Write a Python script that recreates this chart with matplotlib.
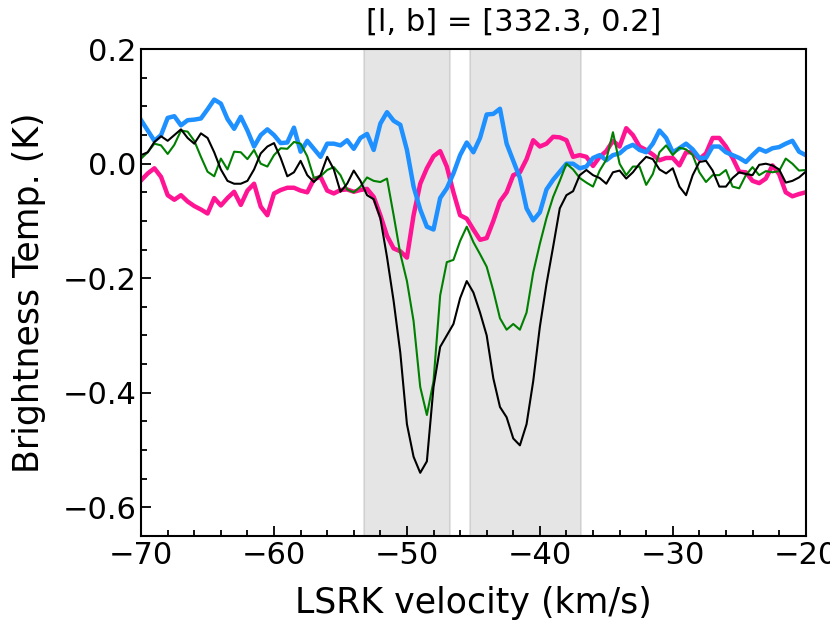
import numpy as np
import matplotlib
matplotlib.use("Agg")
import matplotlib.pyplot as plt
from matplotlib.ticker import MultipleLocator

# LSRK velocity channels (km/s)
velocity = [-70.0, -69.5, -69.0, -68.5, -68.0, -67.5, -67.0, -66.5, -66.0, -65.5,
            -65.0, -64.5, -64.0, -63.5, -63.0, -62.5, -62.0, -61.5, -61.0, -60.5,
            -60.0, -59.5, -59.0, -58.5, -58.0, -57.5, -57.0, -56.5, -56.0, -55.5,
            -55.0, -54.5, -54.0, -53.5, -53.0, -52.5, -52.0, -51.5, -51.0, -50.5,
            -50.0, -49.5, -49.0, -48.5, -48.0, -47.5, -47.0, -46.5, -46.0, -45.5,
            -45.0, -44.5, -44.0, -43.5, -43.0, -42.5, -42.0, -41.5, -41.0, -40.5,
            -40.0, -39.5, -39.0, -38.5, -38.0, -37.5, -37.0, -36.5, -36.0, -35.5,
            -35.0, -34.5, -34.0, -33.5, -33.0, -32.5, -32.0, -31.5, -31.0, -30.5,
            -30.0, -29.5, -29.0, -28.5, -28.0, -27.5, -27.0, -26.5, -26.0, -25.5,
            -25.0, -24.5, -24.0, -23.5, -23.0, -22.5, -22.0, -21.5, -21.0, -20.5,
            -20.0]

black_T = [0.015, 0.020, 0.038, 0.048, 0.040, 0.050, 0.060, 0.045, 0.035, 0.053,
           0.045, 0.020, -0.010, -0.030, -0.035, -0.035, -0.030, -0.010,
           0.018, 0.030, 0.036, 0.010, -0.022, -0.015, 0.005, -0.020, -0.032, -0.020,
           0.012, -0.010, -0.049, -0.035, -0.012, -0.030, -0.055,
           -0.062, -0.095, -0.163, -0.240, -0.330, -0.455, -0.512, -0.540, -0.520, -0.390,
           -0.320, -0.300, -0.280, -0.235, -0.205, -0.225, -0.260, -0.300, -0.375, -0.425,
           -0.443, -0.480, -0.492, -0.455, -0.380, -0.285, -0.210, -0.145, -0.078, -0.055,
           -0.048, -0.020, -0.011, -0.020, -0.025,
           -0.035, -0.015, -0.012, -0.026, -0.015, 0.000, 0.012, 0.008, -0.010, -0.017,
           -0.008, -0.040, -0.055, -0.020, 0.003, 0.005, -0.012, -0.040, -0.040, -0.025,
           -0.015, -0.018, -0.020, -0.002, 0.000, -0.003, -0.010, -0.033, -0.030, -0.024,
           -0.014]

green_T = [0.009, 0.020, 0.035, 0.032, 0.017, 0.033, 0.058, 0.056, 0.040, 0.012,
           -0.014, -0.022, 0.009, -0.010, 0.021, 0.020, 0.008, 0.024,
           0.000, -0.005, 0.015, 0.027, 0.026, 0.038, 0.035, 0.013, -0.025, -0.022,
           -0.011, -0.006, -0.020, -0.045, -0.050, -0.040, -0.024,
           -0.030, -0.032, -0.026, -0.090, -0.157, -0.205, -0.275, -0.390, -0.439, -0.380,
           -0.230, -0.172, -0.168, -0.135, -0.110, -0.137, -0.158, -0.180, -0.222, -0.270,
           -0.290, -0.280, -0.290, -0.260, -0.190, -0.140, -0.095, -0.058, -0.030, 0.000,
           -0.010, -0.025, -0.033, -0.040, -0.012,
           0.007, 0.055, 0.000, -0.020, -0.005, -0.005, -0.037, -0.018, 0.020, 0.032,
           0.015, 0.028, 0.025, 0.015, -0.015, -0.032, -0.020, -0.020, -0.011, -0.040,
           -0.043, -0.020, -0.006, -0.020, -0.013, -0.015, -0.013, 0.009, 0.000, -0.012,
           -0.011]

pink_T = [-0.029, -0.017, -0.008, -0.023, -0.055, -0.063, -0.055, -0.066, -0.074, -0.080,
          -0.087, -0.060, -0.073, -0.060, -0.049, -0.072, -0.047, -0.035,
          -0.075, -0.090, -0.052, -0.046, -0.042, -0.042, -0.047, -0.050, -0.027, -0.023,
          -0.047, -0.052, -0.046, -0.045, -0.049, -0.046, -0.044,
          -0.058, -0.090, -0.126, -0.148, -0.153, -0.164, -0.090, -0.035, -0.008, 0.013,
          0.022, -0.005, -0.050, -0.090, -0.096, -0.115, -0.133, -0.130, -0.100, -0.066,
          -0.050, -0.020, -0.015, 0.008, 0.041, 0.030, 0.035, 0.047, 0.046, 0.041,
          0.012, 0.015, 0.012, -0.004, 0.012,
          0.022, 0.040, 0.030, 0.062, 0.050, 0.030, 0.024, 0.016, 0.006, 0.010,
          0.010, -0.003, 0.020, 0.020, 0.008, 0.018, 0.045, 0.045, 0.030, 0.010,
          -0.014, -0.015, -0.030, -0.034, -0.026, -0.003, -0.018, -0.050, -0.057, -0.053,
          -0.050]

blue_T = [0.076, 0.058, 0.040, 0.050, 0.080, 0.083, 0.067, 0.076, 0.077, 0.079,
          0.095, 0.112, 0.105, 0.078, 0.061, 0.082, 0.058, 0.030,
          0.050, 0.060, 0.050, 0.036, 0.037, 0.063, 0.021, 0.040, 0.026, 0.012,
          0.035, 0.035, 0.032, 0.041, 0.026, 0.045, 0.052,
          0.024, 0.070, 0.090, 0.075, 0.068, 0.024, -0.040, -0.080, -0.110, -0.115,
          -0.060, -0.043, -0.017, 0.015, 0.037, 0.020, 0.045, 0.086, 0.087, 0.096,
          0.035, 0.005, -0.025, -0.078, -0.099, -0.085, -0.045, -0.028, -0.014, 0.000,
          0.000, -0.008, -0.005, 0.010, 0.015,
          0.006, 0.015, 0.018, 0.028, 0.033, 0.024, 0.020, 0.035, 0.058, 0.045,
          0.020, 0.027, 0.035, 0.025, 0.010, 0.010, 0.030, 0.030, 0.020, 0.015,
          0.010, 0.003, 0.015, 0.026, 0.021, 0.027, 0.029, 0.035, 0.040, 0.021,
          0.015]

# velocity windows (shaded)
windows = [(-53.2, -46.75), (-45.25, -36.9)]

title = "[l, b] = [332.3, 0.2]"
xlabel = "LSRK velocity (km/s)"
ylabel = "Brightness Temp. (K)"

plt.rcParams['font.family'] = ['DejaVu Sans']
fs = 22
fs_lab = 25

fig = plt.figure(figsize=(8.30, 6.23), dpi=100)
ax = fig.add_axes([0.170, 0.140, 0.9707 - 0.170, 0.921 - 0.140])

for lo, hi in windows:
    ax.axvspan(lo, hi, color='gray', alpha=0.2, lw=1.5)

ax.plot(velocity, pink_T, color='deeppink', lw=3.2)
ax.plot(velocity, blue_T, color='dodgerblue', lw=3.2)
ax.plot(velocity, green_T, color='green', lw=1.5)
ax.plot(velocity, black_T, color='black', lw=1.5)

ax.set_xlim(-70, -20)
ax.set_ylim(-0.65, 0.2)
ax.set_xticks([-70, -60, -50, -40, -30, -20])
ax.set_yticks([-0.6, -0.4, -0.2, 0.0, 0.2])
ax.xaxis.set_minor_locator(MultipleLocator(2))
ax.yaxis.set_minor_locator(MultipleLocator(0.05))
ax.tick_params(which='both', direction='in', labelsize=fs, width=1.3)
ax.tick_params(which='major', length=7)
ax.tick_params(which='minor', length=4)
for s in ax.spines.values():
    s.set_linewidth(1.5)

ax.set_title(title, fontsize=fs, pad=13, x=0.561)
ax.set_xlabel(xlabel, fontsize=fs_lab, labelpad=12)
ax.set_ylabel(ylabel, fontsize=fs_lab, labelpad=12)

fig.savefig("out.png", dpi=100)
